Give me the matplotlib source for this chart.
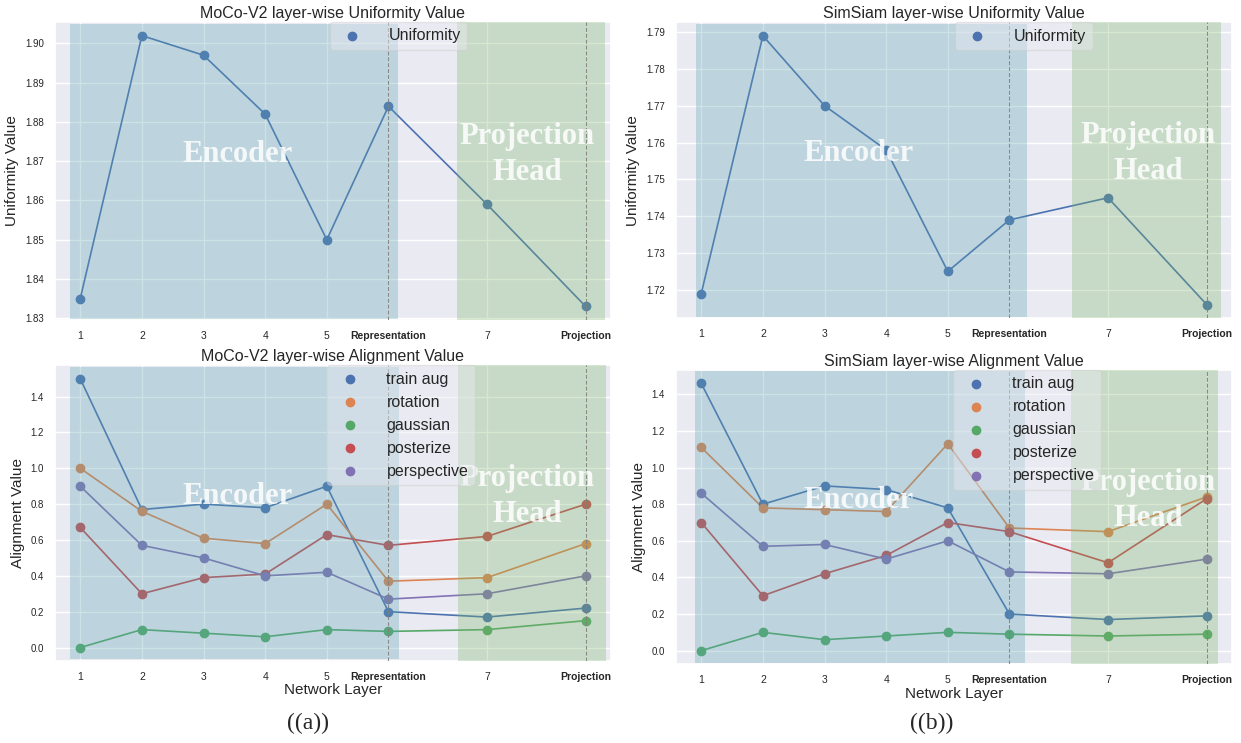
import numpy as np
import matplotlib

matplotlib.use("Agg")
import matplotlib.pyplot as plt
import seaborn as sns

sns.set_theme(style="darkgrid")
plt.rcParams["font.family"] = ["Liberation Sans", "DejaVu Sans"]

# layer positions on the x axis and their tick labels
layer_pos = [1, 2, 3, 4, 5, 6, 7.6, 9.2]
layer_labels = ["1", "2", "3", "4", "5", "Representation", "7", "Projection"]

moco_uniformity = [1.835, 1.902, 1.897, 1.882, 1.850, 1.884, 1.859, 1.833]
simsiam_uniformity = [1.719, 1.789, 1.770, 1.758, 1.725, 1.739, 1.745, 1.716]

aug_names = ["train aug", "rotation", "gaussian", "posterize", "perspective"]

moco_train_aug = [1.50, 0.77, 0.80, 0.78, 0.90, 0.20, 0.17, 0.22]
moco_rotation = [1.00, 0.76, 0.61, 0.58, 0.80, 0.37, 0.39, 0.58]
moco_gaussian = [0.00, 0.10, 0.08, 0.06, 0.10, 0.09, 0.10, 0.15]
moco_posterize = [0.67, 0.30, 0.39, 0.41, 0.63, 0.57, 0.62, 0.80]
moco_perspective = [0.90, 0.57, 0.50, 0.40, 0.42, 0.27, 0.30, 0.40]

simsiam_train_aug = [1.46, 0.80, 0.90, 0.88, 0.78, 0.20, 0.17, 0.19]
simsiam_rotation = [1.11, 0.78, 0.77, 0.76, 1.13, 0.67, 0.65, 0.84]
simsiam_gaussian = [0.00, 0.10, 0.06, 0.08, 0.10, 0.09, 0.08, 0.09]
simsiam_posterize = [0.70, 0.30, 0.42, 0.52, 0.70, 0.65, 0.48, 0.83]
simsiam_perspective = [0.86, 0.57, 0.58, 0.50, 0.60, 0.43, 0.42, 0.50]

# shaded regions (encoder / projection head) per panel
spans_tl = ((0.84, 6.16), (7.12, 9.52))
spans_tr = ((0.91, 6.29), (7.02, 9.43))
spans_bl = ((0.84, 6.17), (7.13, 9.53))
spans_br = ((0.90, 6.26), (7.00, 9.38))

BLUE_SPAN = (87 / 255, 161 / 255, 175 / 255)
GREEN_SPAN = (121 / 255, 181 / 255, 102 / 255)
palette = sns.color_palette("deep")


def decorate(ax, spans, title, ylabel, xlabel=None):
    (b0, b1), (g0, g1) = spans
    ax.axvspan(b0, b1, ymin=0.005, ymax=0.995, color=BLUE_SPAN, alpha=0.3, lw=0, zorder=5)
    ax.axvspan(g0, g1, ymin=0.0, ymax=1.0, color=GREEN_SPAN, alpha=0.3, lw=0, zorder=5)
    for xv in (layer_pos[5], layer_pos[7]):
        ax.axvline(xv, color="gray", ls="--", lw=0.8, alpha=0.9, zorder=6)
    ax.set_xlim(0.59, 9.61)
    ax.set_xticks(layer_pos)
    ax.set_xticklabels(layer_labels, fontsize=7.5)
    for lab in ax.get_xticklabels():
        if lab.get_text() in ("Representation", "Projection"):
            lab.set_fontweight("bold")
    ax.tick_params(axis="y", labelsize=7)
    ax.tick_params(axis="both", pad=2)
    ax.set_title(title, fontsize=11.5, pad=3)
    ax.set_ylabel(ylabel, fontsize=11)
    if xlabel:
        ax.set_xlabel(xlabel, fontsize=11, labelpad=1)
    txt = dict(family=["Liberation Serif", "DejaVu Serif"], fontweight="bold",
               fontsize=22, color="white", alpha=0.85, ha="center", va="center",
               transform=ax.get_xaxis_transform(), zorder=7)
    ax.text(3.55, 0.556, "Encoder", **txt)
    ax.text(8.25, 0.556, "Projection\nHead", linespacing=1.3, **txt)


fig = plt.figure(figsize=(12.41, 7.43), dpi=100)
ax_tl = fig.add_axes([0.0443, 0.5693, 0.448, 0.401])
ax_tr = fig.add_axes([0.5447, 0.572, 0.448, 0.398])
ax_bl = fig.add_axes([0.0443, 0.1104, 0.448, 0.398])
ax_br = fig.add_axes([0.5447, 0.1063, 0.448, 0.3957])

# uniformity panels
for ax, vals in ((ax_tl, moco_uniformity), (ax_tr, simsiam_uniformity)):
    ax.plot(layer_pos, vals, "-", color=palette[0], lw=1.2, zorder=3)
    ax.scatter(layer_pos, vals, color=palette[0], s=36, zorder=4, label="Uniformity")

decorate(ax_tl, spans_tl, "MoCo-V2 layer-wise Uniformity Value", "Uniformity Value")
decorate(ax_tr, spans_tr, "SimSiam layer-wise Uniformity Value", "Uniformity Value")

# alignment panels
moco_align = [moco_train_aug, moco_rotation, moco_gaussian, moco_posterize, moco_perspective]
simsiam_align = [simsiam_train_aug, simsiam_rotation, simsiam_gaussian,
                 simsiam_posterize, simsiam_perspective]
for ax, series in ((ax_bl, moco_align), (ax_br, simsiam_align)):
    for i, (name, vals) in enumerate(zip(aug_names, series)):
        ax.plot(layer_pos, vals, "-", color=palette[i], lw=1.2, zorder=3)
        ax.scatter(layer_pos, vals, color=palette[i], s=36, zorder=4, label=name)

decorate(ax_bl, spans_bl, "MoCo-V2 layer-wise Alignment Value", "Alignment Value", "Network Layer")
decorate(ax_br, spans_br, "SimSiam layer-wise Alignment Value", "Alignment Value", "Network Layer")

for ax, x0 in ((ax_tl, 0.494), (ax_tr, 0.502), (ax_bl, 0.49), (ax_br, 0.499)):
    leg = ax.legend(loc="upper left", bbox_to_anchor=(x0, 1.0), fontsize=11.5,
                    handletextpad=1.3, borderpad=0.4, borderaxespad=0, framealpha=0.45)
    leg.set_zorder(8)

serif = ["Liberation Serif", "DejaVu Serif"]
fig.text(0.248, 0.026, "((a))", family=serif, fontsize=17, ha="center", va="center")
fig.text(0.751, 0.026, "((b))", family=serif, fontsize=17, ha="center", va="center")

fig.savefig("out.png", dpi=100, facecolor="white")
plt.close(fig)
